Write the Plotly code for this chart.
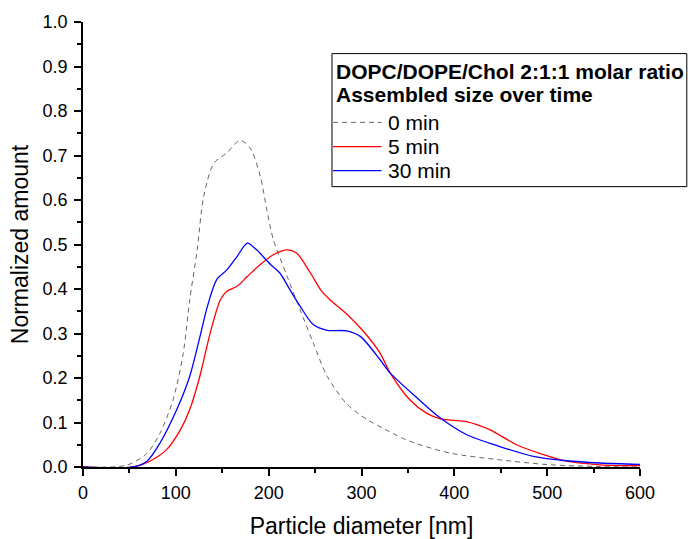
import plotly.graph_objects as go

# particle size distributions
x_0min = [0, 47, 69, 83, 97, 108, 115, 123, 130, 141, 155, 169, 180, 191, 198, 205, 220,
          234, 248, 263, 284, 305, 325, 345, 360, 396, 449, 503, 557, 600]
y_0min = [0, 0.004, 0.031, 0.076, 0.151, 0.256, 0.376, 0.488, 0.608, 0.683, 0.706, 0.734,
          0.717, 0.653, 0.578, 0.511, 0.428, 0.353, 0.279, 0.204, 0.142, 0.108, 0.085,
          0.064, 0.052, 0.031, 0.016, 0.005, 0.001, 0.0]

x_5min = [0, 54, 72, 90, 105, 115, 126, 137, 148, 155, 166, 177, 191, 205, 220, 230, 245,
          256, 266, 284, 302, 320, 331, 352, 370, 385, 413, 438, 467, 496, 521, 557, 600]
y_5min = [0, 0.0, 0.013, 0.039, 0.084, 0.129, 0.205, 0.301, 0.376, 0.395, 0.406, 0.428,
          0.455, 0.477, 0.488, 0.481, 0.436, 0.398, 0.376, 0.344, 0.305, 0.256, 0.211,
          0.151, 0.121, 0.108, 0.102, 0.084, 0.050, 0.028, 0.013, 0.005, 0.003]

x_30min = [0, 54, 69, 83, 101, 115, 126, 134, 144, 155, 166, 177, 187, 202, 212, 223, 234,
           248, 263, 284, 299, 320, 331, 360, 385, 413, 449, 485, 521, 557, 600]
y_30min = [0, 0.0, 0.013, 0.054, 0.129, 0.204, 0.293, 0.361, 0.421, 0.443, 0.473, 0.503,
           0.488, 0.455, 0.436, 0.398, 0.361, 0.320, 0.307, 0.306, 0.293, 0.241, 0.211,
           0.155, 0.110, 0.073, 0.046, 0.024, 0.014, 0.009, 0.006]

series_names = ["0 min", "5 min", "30 min"]
legend_title = ["DOPC/DOPE/Chol 2:1:1 molar ratio", "Assembled size over time"]

FONT = "Liberation Sans, Arial, sans-serif"
styles = [
    dict(color="#666666", width=1, dash="5px,4px"),
    dict(color="#ff0000", width=1.3),
    dict(color="#0000ff", width=1.3),
]

fig = go.Figure()
for xs, ys, name, st in zip([x_0min, x_5min, x_30min], [y_0min, y_5min, y_30min],
                            series_names, styles):
    fig.add_trace(go.Scatter(x=xs, y=ys, name=name, mode="lines", showlegend=False,
                             line=dict(shape="spline", smoothing=0.8, **st)))

# hand-made legend box, it sticks out past the plot area like the original
fig.add_shape(type="rect", xref="paper", yref="paper", x0=0.447, x1=1.084,
              y0=0.630, y1=0.929, line=dict(color="black", width=1), fillcolor="white",
              layer="above")
for i, t in enumerate(legend_title):
    fig.add_annotation(text="<b>%s</b>" % t, xref="paper", yref="paper",
                       x=0.4515, y=0.888 - i * 0.0517, xanchor="left", yanchor="middle",
                       showarrow=False, font=dict(size=21))
for i, (name, st) in enumerate(zip(series_names, styles)):
    yy = 0.7744 - i * 0.0543
    fig.add_shape(type="line", xref="paper", yref="paper", x0=0.4488, x1=0.5359,
                  y0=yy, y1=yy, line=dict(color=st["color"], width=st["width"],
                                          dash=st.get("dash", "solid")))
    fig.add_annotation(text=name, xref="paper", yref="paper", x=0.5440, y=yy,
                       xanchor="left", yanchor="middle", showarrow=False,
                       font=dict(size=21))

fig.update_layout(
    width=688, height=539,
    margin=dict(l=83, r=48, t=22, b=72),
    paper_bgcolor="white", plot_bgcolor="white",
    font=dict(family=FONT, size=18, color="black"),
    showlegend=False,
)
fig.update_xaxes(
    range=[0, 600], dtick=100, tick0=0, automargin=False,
    showline=True, linecolor="black", linewidth=1.5,
    ticks="outside", ticklen=7, tickwidth=1.5, tickcolor="black", ticklabelstandoff=2,
    minor=dict(dtick=50, ticks="outside", ticklen=4, tickwidth=1.5, tickcolor="black"),
    showgrid=False, zeroline=False,
    title=dict(text="Particle diameter [nm]", font=dict(size=23), standoff=17),
)
fig.update_yaxes(
    range=[0, 1.0], dtick=0.1, tick0=0, tickformat=".1f", automargin=False,
    showline=True, linecolor="black", linewidth=1.5,
    ticks="outside", ticklen=7, tickwidth=1.5, tickcolor="black", ticklabelstandoff=3,
    minor=dict(dtick=0.05, ticks="outside", ticklen=4, tickwidth=1.5, tickcolor="black"),
    showgrid=False, zeroline=False,
    title=dict(text="Normalized amount", font=dict(size=23), standoff=8),
)

# drop the default body margin so the 688x539 figure fills the window
fig.write_html("out.html", config={"displayModeBar": False},
               post_script="document.body.style.margin='0';")
